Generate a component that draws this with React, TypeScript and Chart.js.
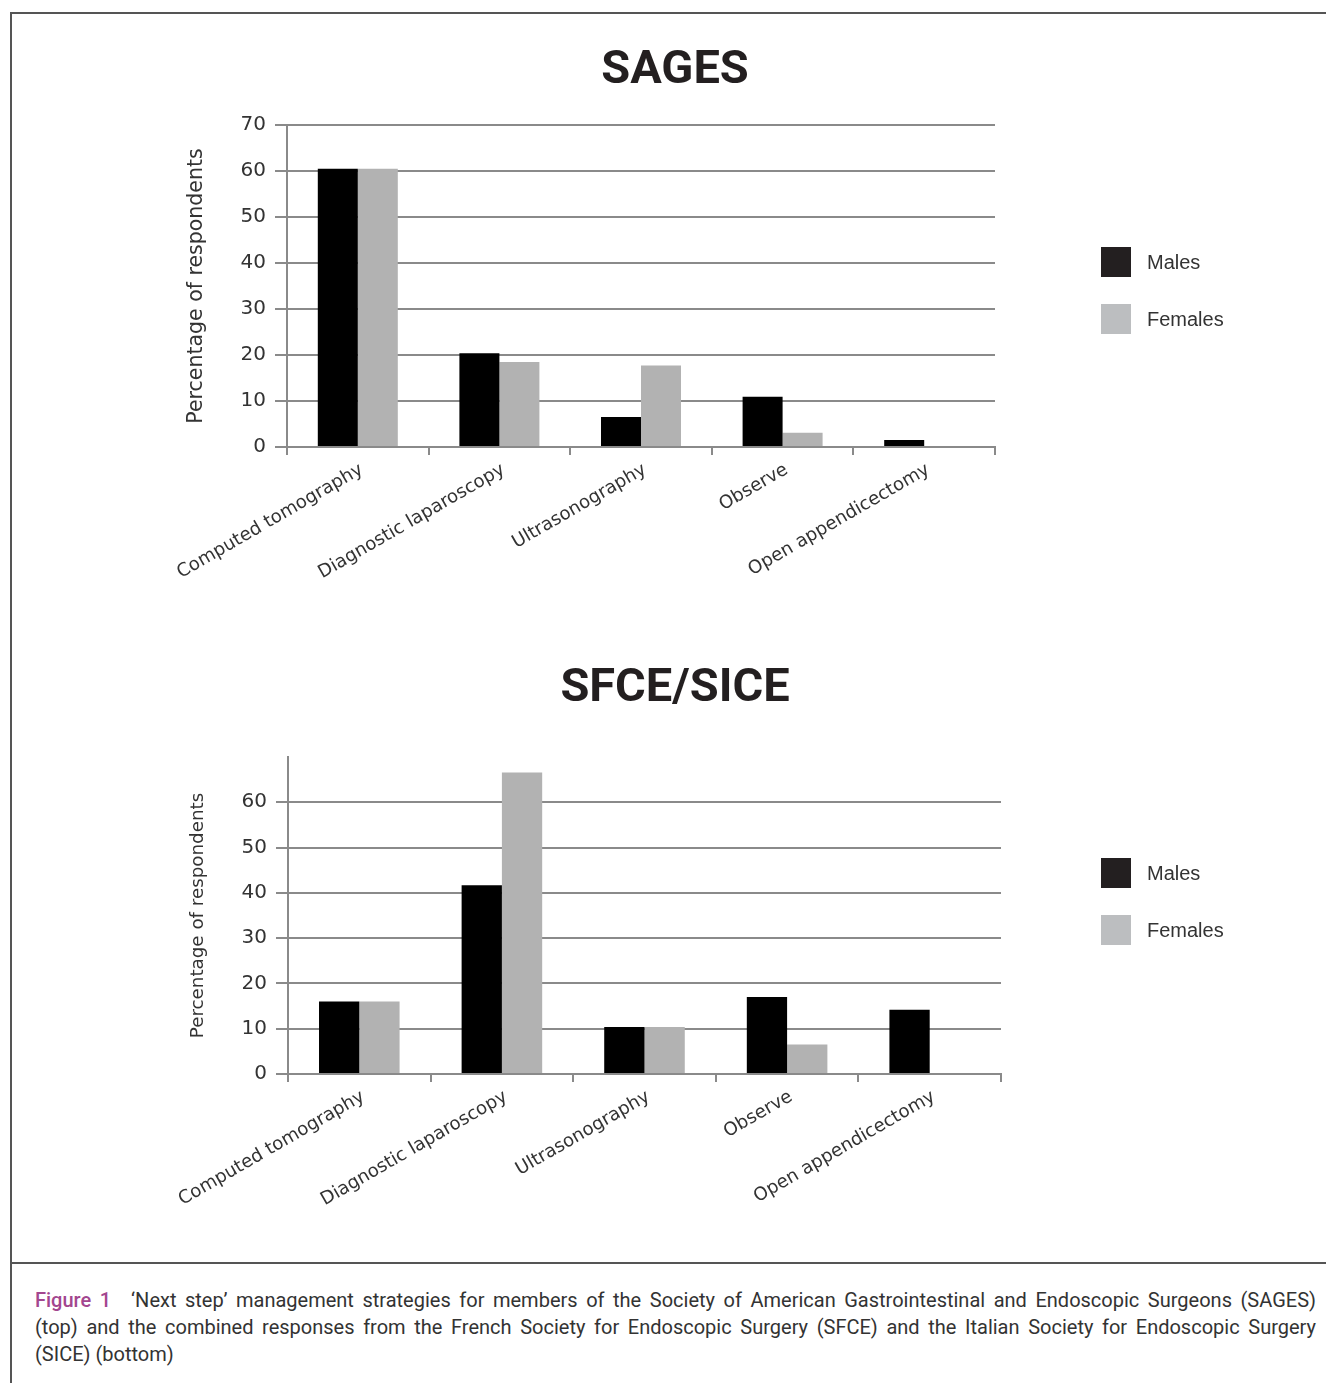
import React, { useEffect, useRef } from 'react';
import { Chart, registerables } from 'chart.js';

Chart.register(...registerables);

// ---------- data ----------
const categories = [
  'Computed tomography',
  'Diagnostic laparoscopy',
  'Ultrasonography',
  'Observe',
  'Open appendicectomy',
];
const seriesLabels = ['Males', 'Females'];
const sagesMales = [60.5, 20.4, 6.5, 10.9, 1.5];
const sagesFemales = [60.5, 18.5, 17.7, 3.1, 0];
const sficeMales = [16.0, 41.7, 10.4, 17.0, 14.2];
const sficeFemales = [16.0, 66.6, 10.4, 6.5, 0];
const yMax = 70;
const yStep = 10;

const AXIS_FONT = '"DejaVu Sans", Verdana, sans-serif';
const TITLE_FONT = 'Roboto, "Liberation Sans", Arial, sans-serif';
const LEGEND_FONT = '"Liberation Sans", Arial, sans-serif';
const GRID = '#8a8a8a';
const TEXT = '#333333';
const BAR_COLORS = ['#000000', '#b2b2b2'];
const LEGEND_COLORS = ['#231f20', '#bcbec0'];

const sideLegend = {
  id: 'sideLegend',
  afterDraw(chart: any, _args: any, opts: any) {
    const { ctx } = chart;
    ctx.save();
    chart.data.datasets.forEach((ds: any, i: number) => {
      const x = opts.x;
      const y = opts.y + i * opts.spacing;
      ctx.fillStyle = LEGEND_COLORS[i];
      ctx.fillRect(x, y, 30, 30);
      ctx.fillStyle = TEXT;
      ctx.font = `20px ${LEGEND_FONT}`;
      ctx.textBaseline = 'middle';
      ctx.textAlign = 'left';
      ctx.fillText(ds.label, x + 46, y + 16);
    });
    ctx.restore();
  },
};

type Cfg = {
  title: string;
  males: number[];
  females: number[];
  height: number;
  titlePad: { top: number; bottom: number };
  yWidth: number;
  rightWidth: number;
  xHeight: number;
  hideTop: boolean;
  yTitleSize: number;
  yTitlePad: number;
  legendY: number;
};

function BarChart({ cfg }: { cfg: Cfg }) {
  const ref = useRef<HTMLCanvasElement | null>(null);
  useEffect(() => {
    if (!ref.current) return;
    const gridColor = (c: any) =>
      cfg.hideTop && c.tick && c.tick.value === yMax ? 'rgba(0,0,0,0)' : GRID;
    const chart = new Chart(ref.current, {
      type: 'bar',
      data: {
        labels: categories,
        datasets: [
          { label: seriesLabels[0], data: cfg.males, backgroundColor: BAR_COLORS[0], categoryPercentage: 0.565, barPercentage: 1 },
          { label: seriesLabels[1], data: cfg.females, backgroundColor: BAR_COLORS[1], categoryPercentage: 0.565, barPercentage: 1 },
        ],
      },
      options: {
        animation: false,
        responsive: false,
        maintainAspectRatio: false,
        layout: { padding: { left: 24, right: 0, top: 0, bottom: 0 } },
        plugins: {
          legend: { display: false },
          tooltip: { enabled: false },
          title: {
            display: true,
            text: cfg.title,
            color: '#231f20',
            font: { family: TITLE_FONT, size: 47, weight: 'bold', lineHeight: 1.2 },
            padding: cfg.titlePad,
          },
          sideLegend: { x: 1101, y: cfg.legendY, spacing: 57 },
        } as any,
        scales: {
          x: {
            grid: { display: true, drawOnChartArea: false, drawTicks: true, tickLength: 8, color: GRID, lineWidth: 2, offset: true },
            border: { display: true, color: GRID, width: 2 },
            ticks: { minRotation: 30, maxRotation: 30, autoSkip: false, color: TEXT, font: { family: AXIS_FONT, size: 18.2 }, padding: 4, labelOffset: 4 },
            afterFit: (s: any) => { s.height = cfg.xHeight; },
          },
          y: {
            min: 0,
            max: yMax,
            ticks: {
              stepSize: yStep,
              color: TEXT,
              font: { family: AXIS_FONT, size: 20 },
              padding: 9,
              callback: (v: any) => (cfg.hideTop && v === yMax ? '' : String(v)),
            },
            grid: { color: gridColor, lineWidth: 2, tickLength: 12, drawTicks: true },
            border: { display: true, color: GRID, width: 2 },
            title: {
              display: true,
              text: 'Percentage of respondents',
              color: TEXT,
              font: { family: AXIS_FONT, size: cfg.yTitleSize },
              padding: { top: cfg.yTitlePad, bottom: 0 },
            },
            afterFit: (s: any) => { s.width = cfg.yWidth; },
          },
          yR: {
            type: 'linear',
            position: 'right',
            display: true,
            grid: { display: false, drawTicks: false },
            border: { display: false },
            ticks: { display: false },
            afterFit: (s: any) => { s.width = cfg.rightWidth; },
          },
        } as any,
      },
      plugins: [sideLegend],
    } as any);
    return () => chart.destroy();
  }, [cfg]);
  return <canvas ref={ref} width={1326} height={cfg.height} style={{ display: 'block', width: 1326, height: cfg.height }} />;
}

const cfgTop: Cfg = {
  title: 'SAGES',
  males: sagesMales,
  females: sagesFemales,
  height: 620,
  titlePad: { top: 43, bottom: 25.6 },
  yWidth: 263,
  rightWidth: 331,
  xHeight: 173,
  hideTop: false,
  yTitleSize: 20.5,
  yTitlePad: 160,
  legendY: 247,
};

const cfgBottom: Cfg = {
  title: 'SFCE/SICE',
  males: sficeMales,
  females: sficeFemales,
  height: 630,
  titlePad: { top: 41, bottom: 39.6 },
  yWidth: 264,
  rightWidth: 325,
  xHeight: 176,
  hideTop: true,
  yTitleSize: 18.3,
  yTitlePad: 163,
  legendY: 238,
};

const line = (s: React.CSSProperties) => <div style={{ position: 'absolute', background: '#555', ...s }} />;

export default function App() {
  const capStyle: React.CSSProperties = {
    width: 1281,
    whiteSpace: 'nowrap',
  };
  const justified: React.CSSProperties = {
    ...capStyle,
    textAlign: 'justify',
    textAlignLast: 'justify' as any,
  };
  return (
    <div style={{ position: 'absolute', left: 0, top: 0, width: 1326, height: 1383, background: '#fff', overflow: 'hidden' }}>
      {line({ left: 11, top: 12, width: 1315, height: 2 })}
      {line({ left: 10, top: 12, width: 2, height: 1371 })}
      {line({ left: 11, top: 1262, width: 1315, height: 2 })}
      <div style={{ position: 'absolute', left: 0, top: 0 }}>
        <BarChart cfg={cfgTop} />
      </div>
      <div style={{ position: 'absolute', left: 0, top: 620 }}>
        <BarChart cfg={cfgBottom} />
      </div>
      <div
        style={{
          position: 'absolute',
          left: 35,
          top: 1287,
          fontFamily: 'Roboto, "Liberation Sans", Arial, sans-serif',
          fontSize: 20,
          lineHeight: '27px',
          color: '#333',
        }}
      >
        <div style={justified}>
          <span style={{ color: '#a3468f', fontWeight: 500, marginRight: 20 }}>Figure 1</span>
          ‘Next step’ management strategies for members of the Society of American Gastrointestinal and Endoscopic Surgeons (SAGES)
        </div>
        <div style={justified}>
          (top) and the combined responses from the French Society for Endoscopic Surgery (SFCE) and the Italian Society for Endoscopic Surgery
        </div>
        <div style={capStyle}>(SICE) (bottom)</div>
      </div>
    </div>
  );
}
